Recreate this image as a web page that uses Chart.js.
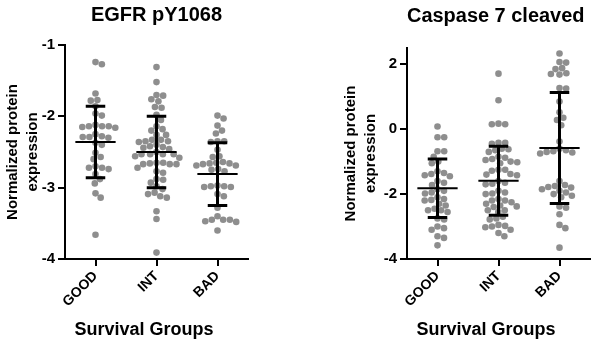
<!DOCTYPE html>
<html>
<head>
<meta charset="utf-8">
<script src="https://cdn.jsdelivr.net/npm/chart.js@4.4.1/dist/chart.umd.min.js"></script>
<style>
  html, body { margin: 0; padding: 0; background: #fff; }
  #wrap { position: relative; width: 596px; height: 344px; }
  canvas { position: absolute; top: 0; }
</style>
</head>
<body>
<div id="wrap">
  <canvas id="left" width="300" height="344" style="left:0"></canvas>
  <canvas id="right" width="296" height="344" style="left:300px"></canvas>
</div>
<script>
// Grupos
const groups = ["GOOD", "INT", "BAD"];

// EGFR pY1068
const egfrGood = [-1.24, -1.27, -1.68, -1.77, -1.78, -1.86, -1.96, -1.99, -2.12, -2.14, -2.14, -2.14,
  -2.15, -2.16, -2.25, -2.28, -2.29, -2.29, -2.30, -2.37, -2.40, -2.51, -2.57, -2.60, -2.70, -2.72,
  -2.72, -2.74, -2.81, -2.88, -2.94, -3.08, -3.14, -3.66];
const egfrInt = [-1.31, -1.52, -1.70, -1.71, -1.76, -1.79, -1.87, -1.88, -1.98, -2.05, -2.14, -2.18,
  -2.20, -2.26, -2.26, -2.33, -2.33, -2.35, -2.35, -2.36, -2.40, -2.42, -2.43, -2.44, -2.46, -2.50,
  -2.53, -2.53, -2.53, -2.53, -2.56, -2.58, -2.65, -2.65, -2.66, -2.67, -2.67, -2.67, -2.72, -2.77,
  -2.79, -2.88, -2.89, -2.93, -2.98, -3.02, -3.07, -3.09, -3.12, -3.14, -3.33, -3.44, -3.91];
const egfrBad = [-1.99, -2.03, -2.13, -2.20, -2.24, -2.35, -2.35, -2.36, -2.47, -2.56, -2.57, -2.64,
  -2.65, -2.66, -2.66, -2.67, -2.69, -2.69, -2.74, -2.75, -2.77, -2.97, -2.98, -2.98, -2.99, -2.99,
  -3.09, -3.12, -3.28, -3.40, -3.45, -3.45, -3.45, -3.47, -3.48, -3.60];
const egfrMean = [-2.36, -2.50, -2.81];
const egfrSd = [0.50, 0.50, 0.44];
const egfrTicks = [-1, -2, -3, -4];

// Caspase 7 cleaved
const casGood = [0.08, -0.25, -0.25, -0.68, -0.68, -0.85, -1.00, -1.05, -1.30, -1.35, -1.38, -1.42,
  -1.45, -1.60, -1.65, -1.72, -1.85, -1.90, -1.95, -1.98, -2.10, -2.15, -2.18, -2.20, -2.30, -2.35,
  -2.45, -2.50, -2.50, -2.55, -2.75, -2.78, -3.00, -3.05, -3.10, -3.30, -3.35, -3.58];
const casInt = [1.71, 0.89, 0.17, 0.15, 0.15, -0.42, -0.42, -0.45, -0.60, -0.62, -0.65, -0.70, -0.85,
  -0.88, -0.92, -0.95, -1.00, -1.02, -1.05, -1.25, -1.25, -1.28, -1.38, -1.40, -1.42, -1.60, -1.65,
  -1.68, -1.70, -1.90, -1.95, -1.98, -2.00, -2.15, -2.20, -2.20, -2.25, -2.30, -2.35, -2.38, -2.40,
  -2.50, -2.50, -2.55, -2.70, -2.75, -2.78, -2.95, -2.98, -3.00, -3.02, -3.10, -3.20, -3.30];
const casBad = [2.33, 2.07, 2.05, 1.88, 1.85, 1.72, 1.70, 1.68, 1.27, 1.25, 0.85, 0.52, 0.35, 0.28,
  0.12, -0.38, -0.60, -0.65, -0.68, -0.70, -0.72, -0.75, -1.60, -1.72, -1.75, -1.78, -1.80, -1.85,
  -1.90, -1.95, -2.00, -2.05, -2.10, -2.38, -2.42, -2.62, -2.95, -3.05, -3.65];
const casMean = [-1.82, -1.59, -0.58];
const casSd = [0.90, 1.06, 1.71];
const casTicks = [2, 0, -2, -4];

Chart.defaults.font.family = "'Liberation Sans', Arial, sans-serif";
Chart.defaults.color = "#000";

const DOT = "#8e8e8e";

// barras de error (media ± DE) como segmentos separados por null
function barrasError(mean, sd) {
  const pts = [];
  mean.forEach((m, i) => {
    const hi = m + sd[i], lo = m - sd[i];
    pts.push({ x: i - 0.16, y: hi }, { x: i + 0.16, y: hi }, { x: i, y: null });
    pts.push({ x: i, y: hi }, { x: i, y: lo }, { x: i, y: null });
    pts.push({ x: i - 0.16, y: lo }, { x: i + 0.16, y: lo }, { x: i, y: null });
  });
  return pts;
}

function lineasMedia(mean) {
  const pts = [];
  mean.forEach((m, i) => {
    pts.push({ x: i - 0.33, y: m }, { x: i + 0.33, y: m }, { x: i, y: null });
  });
  return pts;
}

// beeswarm: reparte los puntos horizontalmente para que no se solapen
function beeswarm(chart) {
  const xs = chart.scales.x, ys = chart.scales.y;
  const pxCat = xs.getPixelForValue(1) - xs.getPixelForValue(0);
  const dia = 6.7;
  chart.data.datasets.forEach(ds => {
    if (ds.grupo === undefined) return;
    const placed = [];
    const orden = ds.data.map((p, k) => k).sort((a, b) => ds.data[b].y - ds.data[a].y);
    orden.forEach(k => {
      const p = ds.data[k];
      const py = ys.getPixelForValue(p.y);
      const near = placed.filter(q => Math.abs(q.py - py) < dia);
      const cands = [0];
      near.forEach(q => {
        const dx = Math.sqrt(dia * dia - (q.py - py) ** 2);
        cands.push(q.px + dx, q.px - dx);
      });
      cands.sort((a, b) => Math.abs(a) - Math.abs(b));
      const px = cands.find(c => near.every(q => (q.px - c) ** 2 + (q.py - py) ** 2 >= dia * dia - 0.01));
      placed.push({ px, py });
      p.x = ds.grupo + px / pxCat;
    });
  });
  chart.update();
}

function crearPanel(id, opts) {
  const series = opts.series;
  const datasets = series.map((vals, i) => ({
    grupo: i,
    data: vals.map(v => ({ x: i, y: v })),
    backgroundColor: DOT,
    borderWidth: 0,
    pointRadius: 3.3,
    pointHoverRadius: 3.3,
    showLine: false,
    order: 2
  }));
  datasets.push({
    data: barrasError(opts.mean, opts.sd),
    showLine: true,
    borderColor: "#000",
    borderWidth: 3,
    pointRadius: 0,
    borderCapStyle: "butt",
    spanGaps: false,
    order: 0
  });
  datasets.push({
    data: lineasMedia(opts.mean),
    showLine: true,
    borderColor: "#000",
    borderWidth: 2,
    pointRadius: 0,
    spanGaps: false,
    order: 1
  });

  const ejeGrid = { drawOnChartArea: false, drawTicks: true, tickLength: 7, color: "#000", lineWidth: 2 };
  const ejeBorde = { display: true, color: "#000", width: 2 };

  const chart = new Chart(document.getElementById(id), {
    type: "scatter",
    data: { datasets },
    options: {
      responsive: false,
      animation: false,
      events: [],
      layout: { padding: opts.padding },
      plugins: {
        legend: { display: false },
        tooltip: { enabled: false },
        title: {
          display: true,
          text: opts.titulo,
          fullSize: false,
          color: "#000",
          font: { size: 20, weight: "bold" },
          padding: opts.tituloPad
        }
      },
      scales: {
        x: {
          type: "linear",
          min: -0.5,
          max: 2.5,
          afterBuildTicks: s => { s.ticks = groups.map((g, i) => ({ value: i })); },
          afterFit: s => { s.height = 85; },
          grid: ejeGrid,
          border: ejeBorde,
          ticks: {
            autoSkip: false,
            minRotation: 45,
            maxRotation: 45,
            padding: 2,
            color: "#000",
            font: { size: 14, weight: "bold" },
            callback: v => groups[v]
          },
          title: {
            display: true,
            // espacios al final para desplazar el título un poco a la izquierda, como en el original
            text: "Survival Groups     ",
            color: "#000",
            font: { size: 18, weight: "bold" },
            padding: { top: 4, bottom: 3 }
          }
        },
        y: {
          min: opts.yMin,
          max: opts.yMax,
          afterBuildTicks: s => { s.ticks = opts.ticks.map(v => ({ value: v })); },
          afterFit: s => { s.width = opts.yAncho; },
          grid: ejeGrid,
          border: ejeBorde,
          ticks: {
            padding: 3,
            color: "#000",
            font: { size: 15, weight: "bold" }
          },
          title: {
            display: true,
            text: ["Normalized protein", "expression"],
            color: "#000",
            font: { size: 15, weight: "bold", lineHeight: 1.33 },
            padding: { top: 2.5, bottom: 0 }
          }
        }
      }
    }
  });
  beeswarm(chart);
  return chart;
}

crearPanel("left", {
  titulo: "EGFR pY1068",
  series: [egfrGood, egfrInt, egfrBad],
  mean: egfrMean,
  sd: egfrSd,
  ticks: egfrTicks,
  yMin: -4,
  yMax: -1,
  yAncho: 65,
  padding: { left: 0, right: 52, top: 0, bottom: 0 },
  tituloPad: { top: 3, bottom: 18 }
});

crearPanel("right", {
  titulo: "Caspase 7 cleaved ",
  series: [casGood, casInt, casBad],
  mean: casMean,
  sd: casSd,
  ticks: casTicks,
  yMin: -4,
  yMax: 2.5,
  yAncho: 69,
  padding: { left: 38, right: 6, top: 0, bottom: 0 },
  tituloPad: { top: 4, bottom: 20 }
});
</script>
</body>
</html>
